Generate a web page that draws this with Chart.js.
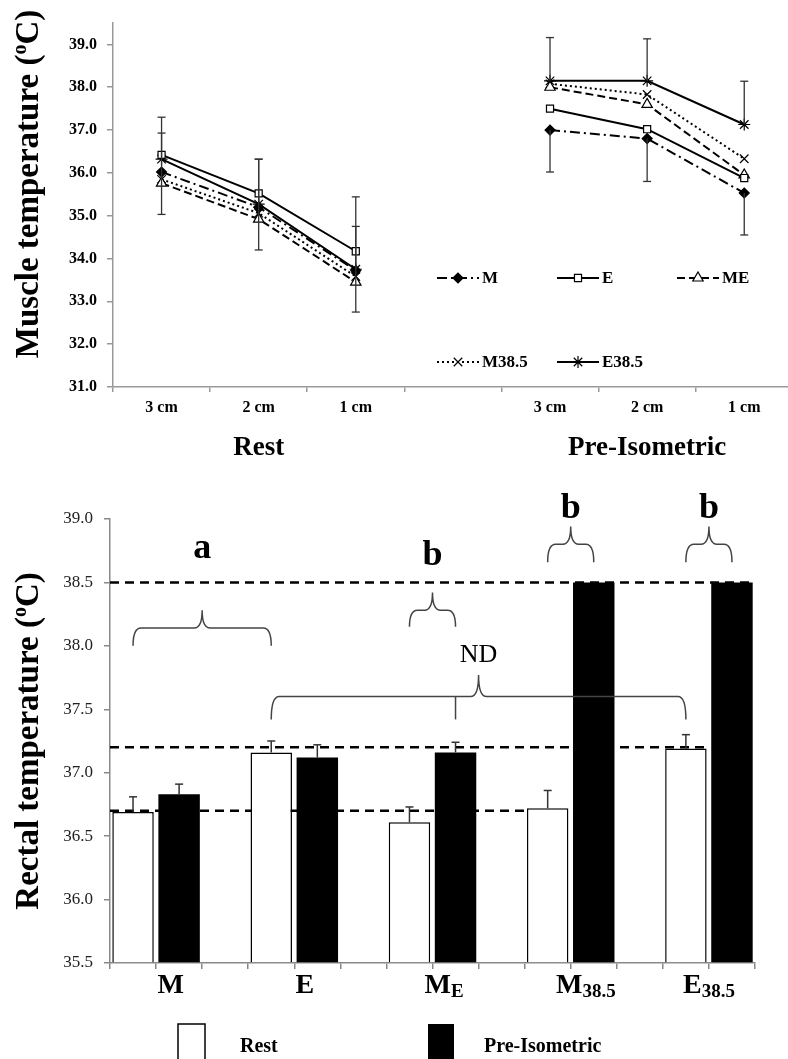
<!DOCTYPE html>
<html><head><meta charset="utf-8">
<script src="https://cdn.jsdelivr.net/npm/chart.js@4.4.0/dist/chart.umd.min.js"></script>
<style>
html,body{margin:0;padding:0;overflow:hidden;background:#fff;width:788px;height:1059px;}
#top{position:absolute;left:0;top:0;}
#bot{position:absolute;left:0;top:470px;}
</style></head><body>
<canvas id="top" width="800" height="470"></canvas>
<canvas id="bot" width="788" height="589"></canvas>
<script>
const FONT = "'Liberation Serif','Times New Roman',serif";

// ---------- Muscle temperature (top chart) ----------
const depthLabels = ['3 cm', '2 cm', '1 cm', '', '3 cm', '2 cm', '1 cm'];
const phaseLabels = ['Rest', 'Pre-Isometric'];
const muscleTicks = [31, 32, 33, 34, 35, 36, 37, 38, 39];
const muscleM    = [36.02, 35.20, 33.72, null, 37.00, 36.80, 35.53];
const muscleE    = [36.42, 35.52, 34.17, null, 37.50, 37.02, 35.88];
const muscleME   = [35.76, 34.92, 33.45, null, 38.00, 37.60, 35.95];
const muscleM385 = [35.85, 35.06, 33.58, null, 38.08, 37.83, 36.33];
const muscleE385 = [36.32, 35.27, 33.75, null, 38.15, 38.15, 37.13];
const errMUp    = [0.91, 1.12, 1.03, null, null, null, null];
const errMDown  = [0.99, 1.00, 0.97, null, 0.98, 1.00, 0.98];
const errE385Up = [0.98, 1.05, 1.69, null, 1.01, 0.98, 1.01];

// ---------- Rectal temperature (bottom chart) ----------
const rectalGroupMain = ['M', 'E', 'M', 'M', 'E'];
const rectalGroupSub  = ['', '', 'E', '38.5', '38.5'];
const rectalTicks = [35.5, 36.0, 36.5, 37.0, 37.5, 38.0, 38.5, 39.0];
const rectalRest    = [36.69, 37.16, 36.61, 36.72, 37.19];
const rectalPre     = [36.83, 37.12, 37.16, 38.50, 38.50];
const rectalRestErr = [0.12, 0.09, 0.12, 0.14, 0.11];
const rectalPreErr  = [0.08, 0.10, 0.08, 0.00, 0.00];
const refLines = [38.5, 37.2, 36.7];
const legendNames = ['Rest', 'Pre-Isometric'];

// helpers
function drawParts(ctx, parts, x, y, align) {
  let total = 0;
  parts.forEach(p => { ctx.font = p.font; p.w = ctx.measureText(p.t).width; total += p.w; });
  let cx = align === 'center' ? x - total / 2 : x;
  ctx.textAlign = 'left';
  parts.forEach(p => { ctx.font = p.font; ctx.fillText(p.t, cx, y + (p.dy || 0)); cx += p.w; });
}
function seg(ctx, x1, y1, x2, y2) { ctx.beginPath(); ctx.moveTo(x1, y1); ctx.lineTo(x2, y2); ctx.stroke(); }

// ---------------- TOP CHART ----------------
const topStyles = [
  { label: 'M',     data: muscleM,    borderDash: [10, 4, 2, 4], pointStyle: 'rectRot',  pointRadius: 5, pointBackgroundColor: '#000' },
  { label: 'E',     data: muscleE,    borderDash: [],           pointStyle: 'rect',     pointRadius: 5, pointBackgroundColor: '#fff' },
  { label: 'ME',    data: muscleME,   borderDash: [8, 4],       pointStyle: 'triangle', pointRadius: 6, pointBackgroundColor: '#fff' },
  { label: 'M38.5', data: muscleM385, borderDash: [2, 3],       pointStyle: 'crossRot', pointRadius: 6, pointBackgroundColor: '#fff' },
  { label: 'E38.5', data: muscleE385, borderDash: [],           pointStyle: 'star',     pointRadius: 6, pointBackgroundColor: '#fff' }
];
const topDatasets = topStyles.map(s => Object.assign({
  borderColor: '#000', borderWidth: 2, pointBorderColor: '#000', pointBorderWidth: 1.2,
  spanGaps: false, tension: 0, fill: false
}, s));

const topErrors = [{ ds: 0, up: errMUp, down: errMDown }, { ds: 4, up: errE385Up, down: null }];

const topPlugin = {
  id: 'topExtras',
  afterDatasetsDraw(chart) {
    const { ctx, scales: { x, y } } = chart;
    ctx.save();
    ctx.strokeStyle = '#333'; ctx.lineWidth = 1.3; ctx.setLineDash([]);
    topErrors.forEach(e => {
      chart.data.datasets[e.ds].data.forEach((v, i) => {
        if (v == null) return;
        const px = x.getPixelForValue(i), py = y.getPixelForValue(v);
        [[e.up, 1], [e.down, -1]].forEach(([arr, s]) => {
          if (!arr || arr[i] == null) return;
          const ey = y.getPixelForValue(v + s * arr[i]);
          seg(ctx, px, py, px, ey); seg(ctx, px - 4, ey, px + 4, ey);
        });
      });
    });
    ctx.restore();
  },
  afterDraw(chart) {
    const { ctx, scales: { x } } = chart;
    ctx.save();
    // legend
    const pos = [[437, 278], [557, 278], [677, 278], [437, 362], [557, 362]];
    chart.data.datasets.forEach((ds, i) => {
      const [lx, ly] = pos[i];
      ctx.strokeStyle = '#000'; ctx.lineWidth = 2; ctx.setLineDash(ds.borderDash);
      seg(ctx, lx, ly, lx + 42, ly);
      ctx.setLineDash([]);
      ctx.fillStyle = ds.pointBackgroundColor; ctx.strokeStyle = '#000'; ctx.lineWidth = 1.2;
      Chart.helpers.drawPoint(ctx, { pointStyle: ds.pointStyle, radius: ds.pointRadius, borderWidth: 1.2, rotation: 0 }, lx + 21, ly);
      ctx.fillStyle = '#000'; ctx.font = 'bold 17px ' + FONT; ctx.textBaseline = 'middle'; ctx.textAlign = 'left';
      ctx.fillText(ds.label, lx + 45, ly + 1);
    });
    // phase labels
    ctx.fillStyle = '#000'; ctx.textBaseline = 'alphabetic'; ctx.textAlign = 'center';
    ctx.font = 'bold 27px ' + FONT;
    ctx.fillText(phaseLabels[0], x.getPixelForValue(1), 455);
    ctx.fillText(phaseLabels[1], x.getPixelForValue(5), 455);
    // y title
    ctx.translate(38, 184); ctx.rotate(-Math.PI / 2);
    drawParts(ctx, [
      { t: 'Muscle temperature (', font: 'bold 33px ' + FONT },
      { t: 'o', font: 'bold 20px ' + FONT, dy: -12 },
      { t: 'C)', font: 'bold 33px ' + FONT }
    ], 0, 0, 'center');
    ctx.restore();
  }
};

new Chart(document.getElementById('top'), {
  type: 'line',
  data: { labels: depthLabels, datasets: topDatasets },
  options: {
    responsive: false, animation: false, devicePixelRatio: 1,
    layout: { padding: { top: 23, right: 2, left: 0, bottom: 0 } },
    plugins: { legend: { display: false }, tooltip: { enabled: false } },
    scales: {
      x: {
        type: 'category', offset: true,
        grid: { display: true, offset: true, drawOnChartArea: false, drawTicks: true, tickLength: 5, color: '#999', lineWidth: 1.5 },
        border: { display: true, color: '#999', width: 1.5 },
        ticks: { color: '#000', font: { family: FONT, size: 16, weight: 'bold' }, padding: 6, maxRotation: 0, autoSkip: false },
        afterFit: s => { s.height = 83; }
      },
      y: {
        min: 31, max: 39.5,
        afterBuildTicks: s => { s.ticks = muscleTicks.map(v => ({ value: v })); },
        grid: { display: true, drawOnChartArea: false, drawTicks: true, tickLength: 6, color: '#999', lineWidth: 1.5 },
        border: { display: true, color: '#999', width: 1.5 },
        ticks: { color: '#000', font: { family: FONT, size: 16, weight: 'bold' }, padding: 10, callback: v => Number(v).toFixed(1) },
        afterFit: s => { s.width = 113; }
      }
    }
  },
  plugins: [topPlugin]
});

// ---------------- BOTTOM CHART ----------------
// 14 slots: [Rest, Pre, gap] per group
const slotLabels = [];
const restSlots = [], preSlots = [], restErrSlots = [], preErrSlots = [];
rectalRest.forEach((v, i) => {
  slotLabels.push(rectalGroupMain[i] + rectalGroupSub[i] + ' Rest', rectalGroupMain[i] + rectalGroupSub[i] + ' Pre');
  restSlots.push(v, null); preSlots.push(null, rectalPre[i]);
  restErrSlots.push(rectalRestErr[i], null); preErrSlots.push(null, rectalPreErr[i]);
  if (i < rectalRest.length - 1) { slotLabels.push(''); restSlots.push(null); preSlots.push(null); restErrSlots.push(null); preErrSlots.push(null); }
});

const braces = [
  { s1: 0.5, s2: 3.5, yE: 38.0, yB: 38.14, yP: 38.28 },
  { s1: 6.5, s2: 7.5, yE: 38.15, yB: 38.28, yP: 38.42 },
  { s1: 9.5, s2: 10.5, yE: 38.66, yB: 38.8, yP: 38.94 },
  { s1: 12.5, s2: 13.5, yE: 38.66, yB: 38.8, yP: 38.94 },
  { s1: 3.5, s2: 12.5, yE: 37.42, yB: 37.6, yP: 37.77, tick: 7.5 }
];
const notes = [
  { t: 'a', s: 2.0, y: 38.69, font: 'bold 36px ' + FONT },
  { t: 'b', s: 7.0, y: 38.64, font: 'bold 36px ' + FONT },
  { t: 'b', s: 10.0, y: 39.01, font: 'bold 36px ' + FONT },
  { t: 'b', s: 13.0, y: 39.01, font: 'bold 36px ' + FONT },
  { t: 'ND', s: 8.0, y: 37.87, font: '26px ' + FONT }
];
const refExtent = [14, 12.9, 9.0];
const labelSlotPos = [1.32, 4.23, 7.25, 10.33, 13.0];

const botPlugin = {
  id: 'botExtras',
  beforeDatasetsDraw(chart) {
    const { ctx, scales: { x, y }, chartArea: a } = chart;
    const sw = (a.right - a.left) / 14;
    ctx.save();
    ctx.strokeStyle = '#000'; ctx.lineWidth = 2.5; ctx.setLineDash([9, 6]);
    refLines.forEach((v, i) => {
      const py = y.getPixelForValue(v);
      seg(ctx, a.left, py, a.left + refExtent[i] * sw, py);
    });
    ctx.restore();
  },
  afterDatasetsDraw(chart) {
    const { ctx, scales: { x, y }, chartArea: a } = chart;
    const sw = (a.right - a.left) / 14;
    const sx = s => a.left + s * sw;
    ctx.save();
    // error bars
    ctx.strokeStyle = '#333'; ctx.lineWidth = 1.5; ctx.setLineDash([]);
    [[0, restErrSlots], [1, preErrSlots]].forEach(([di, errs]) => {
      const meta = chart.getDatasetMeta(di);
      chart.data.datasets[di].data.forEach((v, i) => {
        if (v == null || !errs[i]) return;
        const px = meta.data[i].x, py = y.getPixelForValue(v), ey = y.getPixelForValue(v + errs[i]);
        seg(ctx, px, py, px, ey); seg(ctx, px - 4, ey, px + 4, ey);
      });
    });
    // braces
    ctx.strokeStyle = '#444'; ctx.lineWidth = 1.5;
    braces.forEach(b => {
      const x1 = sx(b.s1), x2 = sx(b.s2), xm = (x1 + x2) / 2;
      const yE = y.getPixelForValue(b.yE), yB = y.getPixelForValue(b.yB), yP = y.getPixelForValue(b.yP);
      const r = 8;
      ctx.beginPath();
      ctx.moveTo(x1, yE);
      ctx.quadraticCurveTo(x1, yB, x1 + r, yB);
      ctx.lineTo(xm - r, yB);
      ctx.quadraticCurveTo(xm, yB, xm, yP);
      ctx.quadraticCurveTo(xm, yB, xm + r, yB);
      ctx.lineTo(x2 - r, yB);
      ctx.quadraticCurveTo(x2, yB, x2, yE);
      ctx.stroke();
      if (b.tick != null) seg(ctx, sx(b.tick), yB, sx(b.tick), yE);
    });
    // notes
    ctx.fillStyle = '#000'; ctx.textAlign = 'center'; ctx.textBaseline = 'alphabetic';
    notes.forEach(n => { ctx.font = n.font; ctx.fillText(n.t, sx(n.s), y.getPixelForValue(n.y)); });
    ctx.restore();
  },
  afterDraw(chart) {
    const { ctx, chartArea: a } = chart;
    const sw = (a.right - a.left) / 14;
    ctx.save();
    ctx.fillStyle = '#000'; ctx.textBaseline = 'alphabetic';
    // group labels with subscripts
    rectalGroupMain.forEach((m, i) => {
      const parts = [{ t: m, font: 'bold 28px ' + FONT }];
      if (rectalGroupSub[i]) parts.push({ t: rectalGroupSub[i], font: 'bold 19px ' + FONT, dy: 4 });
      drawParts(ctx, parts, a.left + labelSlotPos[i] * sw, 523, 'center');
    });
    // legend
    ctx.lineWidth = 1.5; ctx.strokeStyle = '#000';
    ctx.fillStyle = '#fff'; ctx.fillRect(178, 554, 27, 60); ctx.strokeRect(178, 554, 27, 60);
    ctx.fillStyle = '#000'; ctx.fillRect(428, 554, 26, 60);
    ctx.font = 'bold 20px ' + FONT; ctx.textAlign = 'left';
    ctx.fillText(legendNames[0], 240, 582);
    ctx.fillText(legendNames[1], 484, 582);
    // y title
    ctx.translate(38, 271); ctx.rotate(-Math.PI / 2);
    drawParts(ctx, [
      { t: 'Rectal temperature (', font: 'bold 33px ' + FONT },
      { t: 'o', font: 'bold 20px ' + FONT, dy: -12 },
      { t: 'C)', font: 'bold 33px ' + FONT }
    ], 0, 0, 'center');
    ctx.restore();
  }
};

new Chart(document.getElementById('bot'), {
  type: 'bar',
  data: {
    labels: slotLabels,
    datasets: [
      { label: legendNames[0], data: restSlots, backgroundColor: '#fff', borderColor: '#000', borderWidth: 1.5,
        grouped: false, barPercentage: 0.9, categoryPercentage: 1.0, base: 35.5 },
      { label: legendNames[1], data: preSlots, backgroundColor: '#000', borderColor: '#000', borderWidth: 0,
        grouped: false, barPercentage: 0.9, categoryPercentage: 1.0, base: 35.5 }
    ]
  },
  options: {
    responsive: false, animation: false, devicePixelRatio: 1,
    layout: { padding: { top: 49, right: 33, left: 0, bottom: 0 } },
    plugins: { legend: { display: false }, tooltip: { enabled: false } },
    scales: {
      x: {
        type: 'category', offset: true,
        grid: { display: true, offset: true, drawOnChartArea: false, drawTicks: true, tickLength: 6, color: '#888', lineWidth: 1.5 },
        border: { display: true, color: '#888', width: 1.5 },
        ticks: { display: false },
        afterFit: s => { s.height = 96; }
      },
      y: {
        min: 35.5, max: 39.0,
        afterBuildTicks: s => { s.ticks = rectalTicks.map(v => ({ value: v })); },
        grid: { display: true, drawOnChartArea: false, drawTicks: true, tickLength: 6, color: '#888', lineWidth: 1.5 },
        border: { display: true, color: '#888', width: 1.5 },
        ticks: { color: '#222', font: { family: FONT, size: 17 }, padding: 11, callback: v => Number(v).toFixed(1) },
        afterFit: s => { s.width = 110; }
      }
    }
  },
  plugins: [botPlugin]
});
</script>
</body></html>
